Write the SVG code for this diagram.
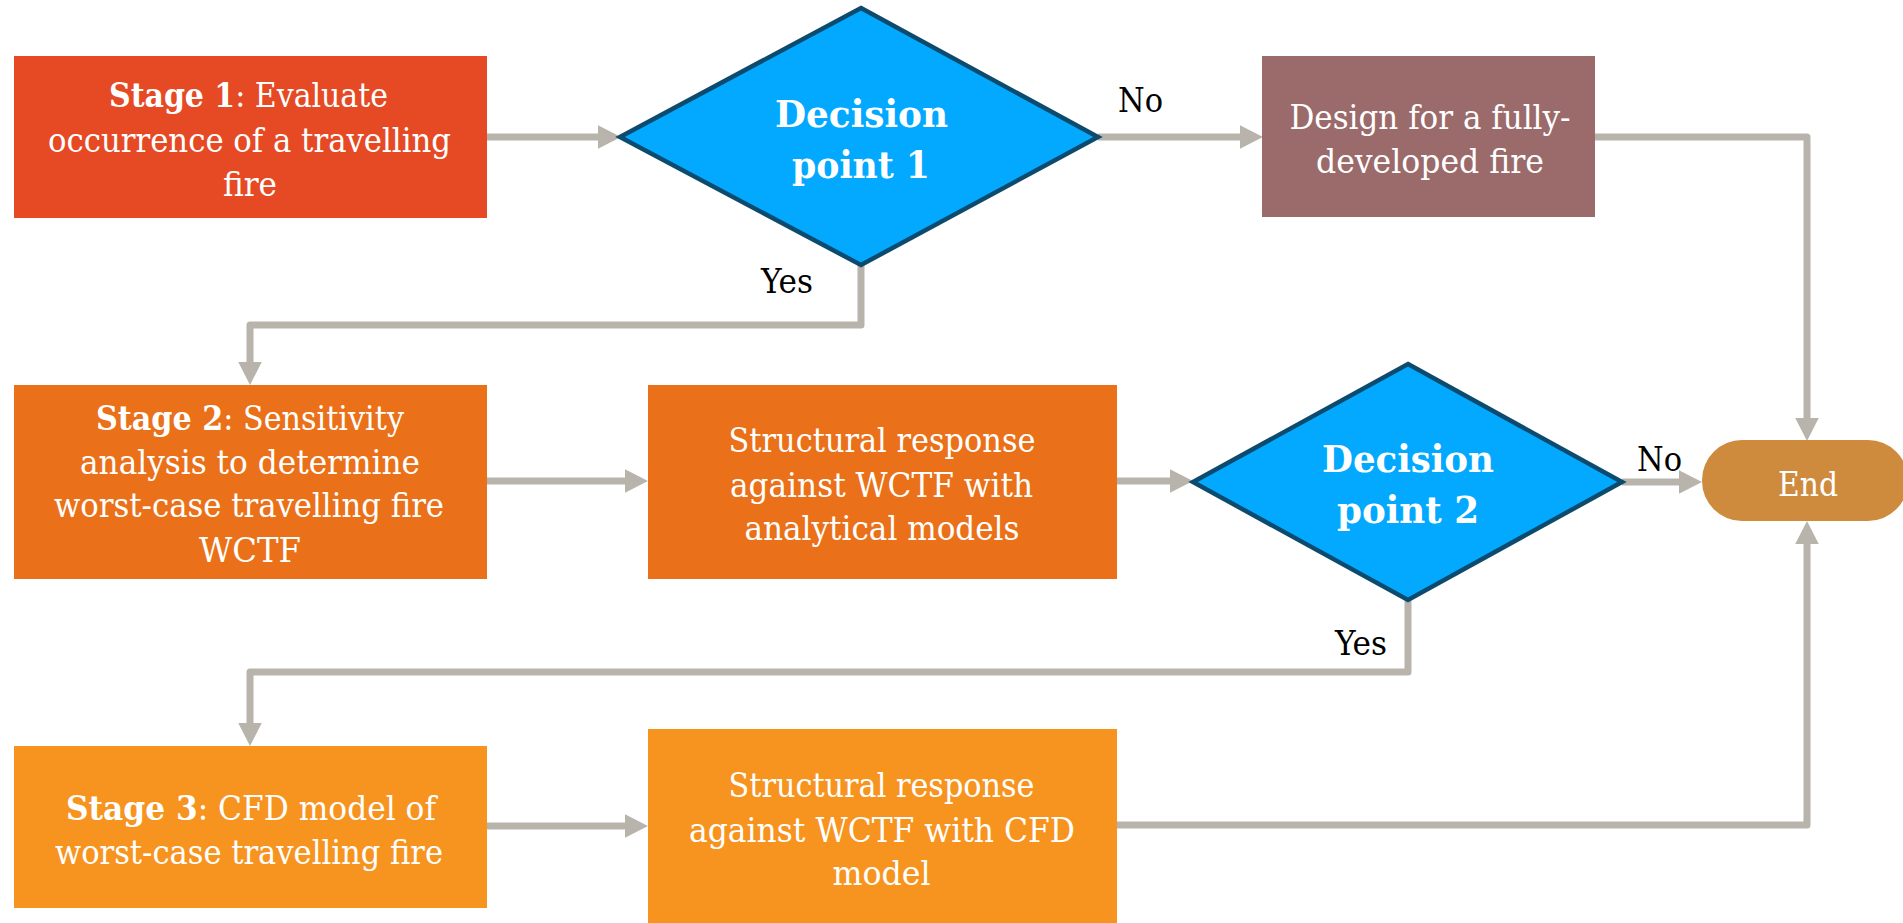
<svg xmlns="http://www.w3.org/2000/svg" width="1903" height="923" viewBox="0 0 1903 923">
  <style>
    .t { font-family: "DejaVu Serif Condensed", "DejaVu Serif", "Liberation Serif", serif; font-size: 33px; fill: #ffffff; text-anchor: middle; }
    .b { font-weight: bold; }
    .dt { font-family: "DejaVu Serif Condensed", "DejaVu Serif", "Liberation Serif", serif; font-size: 38px; font-weight: bold; fill: #ffffff; text-anchor: middle; }
    .lbl { font-family: "DejaVu Serif Condensed", "DejaVu Serif", "Liberation Serif", serif; font-size: 33px; fill: #000000; }
    .conn { fill: none; stroke: #B8B3AB; stroke-width: 7; stroke-linejoin: round; marker-end: url(#arrow); }
    .plain { fill: none; stroke: #B8B3AB; stroke-width: 7; stroke-linejoin: round; }
    .diamond { fill: #02A9FE; stroke: #0C4A6E; stroke-width: 4.5; stroke-linejoin: miter; }
  </style>
  <defs>
    <marker id="arrow" markerUnits="userSpaceOnUse" markerWidth="23" markerHeight="24" refX="0" refY="11.75" orient="auto">
      <path d="M0,0 L23,11.75 L0,23.5 z" fill="#B8B3AB"/>
    </marker>
  </defs>
  <rect width="1903" height="923" fill="#ffffff"/>

  <!-- connectors -->
  <g id="connectors">
    <path class="conn" d="M487,137 H598"/>
    <path class="conn" d="M1098,137 H1240"/>
    <path class="conn" d="M1595,137 H1807 V418"/>
    <path class="conn" d="M861,265 V325 H250 V362"/>
    <path class="conn" d="M487,481 H625"/>
    <path class="conn" d="M1117,481 H1170"/>
    <path class="conn" d="M1622,482 H1679"/>
    <path class="conn" d="M1408,600 V672 H250 V723"/>
    <path class="conn" d="M487,826 H625"/>
    <path class="conn" d="M1117,825 H1807 V544"/>
  </g>

  <!-- Stage 1 -->
  <g id="stage1">
    <rect x="14" y="56" width="473" height="162" fill="#E54A25"/>
    <text class="t" x="248.5" y="107" textLength="279" lengthAdjust="spacingAndGlyphs"><tspan class="b">Stage 1</tspan>: Evaluate</text>
    <text class="t" x="249.5" y="151.5" textLength="403" lengthAdjust="spacingAndGlyphs">occurrence of a travelling</text>
    <text class="t" x="250" y="195.5" textLength="54" lengthAdjust="spacingAndGlyphs">fire</text>
  </g>

  <!-- Decision point 1 -->
  <g id="decision1">
    <polygon class="diamond" points="861,8 1098,137 861,265 620,137"/>
    <text class="dt" x="861.5" y="127" textLength="173" lengthAdjust="spacingAndGlyphs">Decision</text>
    <text class="dt" x="861" y="178" textLength="138" lengthAdjust="spacingAndGlyphs">point 1</text>
  </g>

  <!-- Fully-developed fire design -->
  <g id="design">
    <rect x="1262" y="56" width="333" height="161" fill="#9B6A6A"/>
    <text class="t" x="1430" y="128.5" textLength="281" lengthAdjust="spacingAndGlyphs">Design for a fully-</text>
    <text class="t" x="1430" y="173" textLength="228" lengthAdjust="spacingAndGlyphs">developed fire</text>
  </g>

  <!-- Stage 2 -->
  <g id="stage2">
    <rect x="14" y="385" width="473" height="194" fill="#EA7119"/>
    <text class="t" x="250" y="430" textLength="308" lengthAdjust="spacingAndGlyphs"><tspan class="b">Stage 2</tspan>: Sensitivity</text>
    <text class="t" x="250" y="473.5" textLength="340" lengthAdjust="spacingAndGlyphs">analysis to determine</text>
    <text class="t" x="249" y="517" textLength="390" lengthAdjust="spacingAndGlyphs">worst-case travelling fire</text>
    <text class="t" x="250" y="561.5" textLength="102" lengthAdjust="spacingAndGlyphs">WCTF</text>
  </g>

  <!-- Analytical structural response -->
  <g id="analytical">
    <rect x="648" y="385" width="469" height="194" fill="#EA7119"/>
    <text class="t" x="882" y="452" textLength="307" lengthAdjust="spacingAndGlyphs">Structural response</text>
    <text class="t" x="881.5" y="497" textLength="303" lengthAdjust="spacingAndGlyphs">against WCTF with</text>
    <text class="t" x="882" y="540" textLength="275" lengthAdjust="spacingAndGlyphs">analytical models</text>
  </g>

  <!-- Decision point 2 -->
  <g id="decision2">
    <polygon class="diamond" points="1408,364 1622,482 1408,600 1193,482"/>
    <text class="dt" x="1408" y="471.5" textLength="172" lengthAdjust="spacingAndGlyphs">Decision</text>
    <text class="dt" x="1408" y="523" textLength="142" lengthAdjust="spacingAndGlyphs">point 2</text>
  </g>

  <!-- End terminator -->
  <g id="end">
    <rect x="1702" y="440" width="206" height="81" rx="40" ry="40" fill="#CE8B3E"/>
    <text class="t" x="1808" y="496" textLength="60" lengthAdjust="spacingAndGlyphs">End</text>
  </g>

  <!-- Stage 3 -->
  <g id="stage3">
    <rect x="14" y="746" width="473" height="162" fill="#F7941F"/>
    <text class="t" x="251" y="820" textLength="370" lengthAdjust="spacingAndGlyphs"><tspan class="b">Stage 3</tspan>: CFD model of</text>
    <text class="t" x="249" y="864" textLength="388" lengthAdjust="spacingAndGlyphs">worst-case travelling fire</text>
  </g>

  <!-- CFD structural response -->
  <g id="cfd">
    <rect x="648" y="729" width="469" height="194" fill="#F7941F"/>
    <text class="t" x="881.5" y="797" textLength="306" lengthAdjust="spacingAndGlyphs">Structural response</text>
    <text class="t" x="882" y="842" textLength="386" lengthAdjust="spacingAndGlyphs">against WCTF with CFD</text>
    <text class="t" x="881.5" y="885" textLength="98" lengthAdjust="spacingAndGlyphs">model</text>
  </g>

  <!-- branch labels -->
  <g id="labels">
    <text class="lbl" x="1118" y="112" textLength="45" lengthAdjust="spacingAndGlyphs">No</text>
    <text class="lbl" x="761" y="293" textLength="52" lengthAdjust="spacingAndGlyphs">Yes</text>
    <text class="lbl" x="1637" y="471" textLength="45" lengthAdjust="spacingAndGlyphs">No</text>
    <text class="lbl" x="1335" y="655" textLength="52" lengthAdjust="spacingAndGlyphs">Yes</text>
  </g>
</svg>
